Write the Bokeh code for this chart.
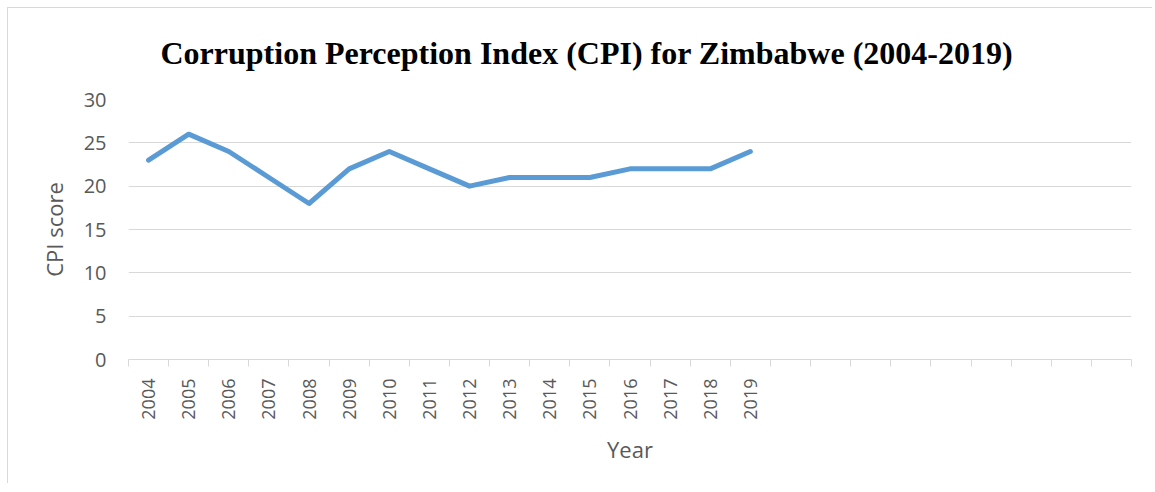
import math
from bokeh.plotting import figure
from bokeh.models import FixedTicker, ColumnDataSource, Range1d
from bokeh.embed import file_html
from bokeh.resources import INLINE

years = ["2004", "2005", "2006", "2007", "2008", "2009", "2010", "2011",
         "2012", "2013", "2014", "2015", "2016", "2017", "2018", "2019"]
cpi = [23, 26, 24, 21, 18, 22, 24, 22, 20, 21, 21, 21, 22, 22, 22, 24]
n_slots = 25  # category slots on the axis (16 years + 9 empty)
y_ticks = [0, 5, 10, 15, 20, 25, 30]

xpos = [i + 0.5 for i in range(len(years))]
src = ColumnDataSource(dict(x=xpos, y=cpi, year=years))

p = figure(width=1145, height=476, output_backend="svg", toolbar_location=None,
           x_range=Range1d(0, n_slots), y_range=Range1d(0, 30),
           min_border_left=120, min_border_right=22, min_border_top=90, min_border_bottom=125)
p.styles = {"border-top": "1px solid #d9d9d9", "border-left": "1px solid #d9d9d9",
            "margin-left": "7px", "margin-top": "7px"}

p.line("x", "y", source=src, line_color="#5B9BD5", line_width=5,
       line_join="round", line_cap="round")

p.title.text = "Corruption Perception Index (CPI) for Zimbabwe (2004-2019)"
p.title.align = "left"
p.title.vertical_align = "top"
p.title.text_font = "Liberation Serif"
p.title.text_font_style = "bold"
p.title.text_font_size = "32px"
p.title.text_color = "black"
p.title.offset = 32
p.title.standoff = 53

# x axis
xa = p.xaxis[0]
xa.ticker = FixedTicker(ticks=xpos, minor_ticks=list(range(n_slots + 1)))
xa.major_label_overrides = {x: y for x, y in zip(xpos, years)}
xa.major_label_orientation = math.pi / 2
xa.major_tick_out = 0
xa.major_tick_in = 0
xa.minor_tick_out = 7
xa.minor_tick_in = 0
xa.minor_tick_line_color = "#d9d9d9"
xa.axis_line_color = "#d9d9d9"
xa.major_label_text_font = "Open Sans"
xa.major_label_text_font_size = "18px"
xa.major_label_text_color = "#595959"
xa.major_label_standoff = 12
xa.axis_label = "Year"
xa.axis_label_text_font = "Open Sans"
xa.axis_label_text_font_size = "22px"
xa.axis_label_text_font_style = "normal"
xa.axis_label_text_color = "#595959"
xa.axis_label_standoff = 11

# y axis
ya = p.yaxis[0]
ya.ticker = FixedTicker(ticks=y_ticks)
ya.axis_line_color = None
ya.major_tick_line_color = None
ya.minor_tick_line_color = None
ya.major_label_text_font = "Open Sans"
ya.major_label_text_font_size = "20px"
ya.major_label_text_color = "#595959"
ya.major_label_standoff = 16
ya.axis_label = "CPI score"
ya.axis_label_text_font = "Open Sans"
ya.axis_label_text_font_size = "22px"
ya.axis_label_text_font_style = "normal"
ya.axis_label_text_color = "#595959"
ya.axis_label_standoff = 12

p.xgrid.grid_line_color = None
p.ygrid.grid_line_color = "#d9d9d9"
p.ygrid.grid_line_width = 1
p.outline_line_color = None

open("out.html", "w").write(file_html(p, INLINE))
